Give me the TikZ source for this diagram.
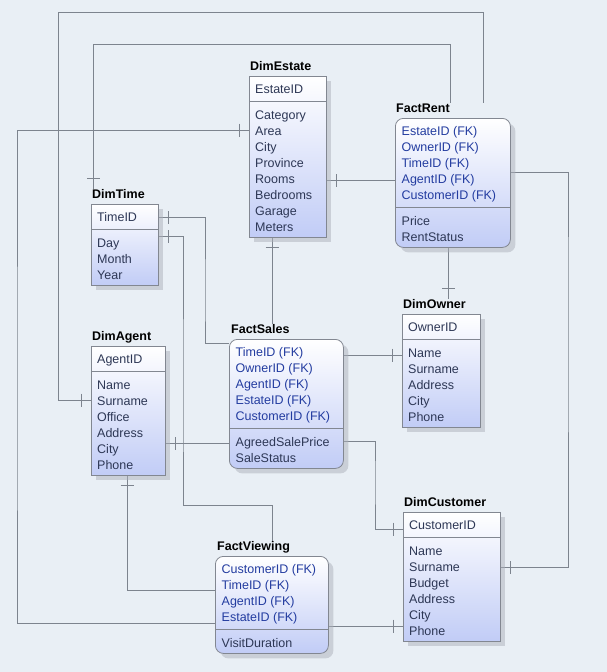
\documentclass[tikz,border=0pt]{standalone}
\usepackage{fontspec}
\setmainfont{Liberation Sans}
\usetikzlibrary{shadows, decorations.markings}
\definecolor{ermbg}{RGB}{233, 239, 245}
\definecolor{ermline}{RGB}{125, 132, 142}
\definecolor{ermborder}{RGB}{130, 135, 145}
\definecolor{ermshadow}{RGB}{172, 177, 186}
\definecolor{ermblue}{RGB}{193, 204, 246}
\definecolor{ermtext}{RGB}{45, 55, 85}
\definecolor{ermfk}{RGB}{35, 60, 160}
\pgfdeclarelayer{bg}
\pgfsetlayers{bg,main}

\begin{document}
\begin{tikzpicture}[x=1pt, y=-1pt,
  tbl/.style={draw=ermborder, line width=0.8pt, top color=white, bottom color=ermblue, anchor=north west, inner sep=0pt,
    drop shadow={shadow xshift=5pt, shadow yshift=-5pt, fill=ermshadow}},
  facttbl/.style={tbl, rounded corners=8pt},
  ttl/.style={font=\fontsize{12.5}{15}\selectfont\bfseries, anchor=base west, inner sep=0pt},
  keyrow/.style={font=\fontsize{12.5}{16}\selectfont, text=ermtext, anchor=base west, inner sep=0pt},
  rows/.style={font=\fontsize{12.5}{16}\selectfont, text=ermtext, anchor=north west, inner sep=0pt, align=left},
  fkrows/.style={rows, text=ermfk},
  sepline/.style={draw=ermborder, line width=0.8pt},
  rel/.style={draw=ermline, line width=0.9pt, postaction={decorate, decoration={markings,
    mark=at position 10pt with {\draw[ermline, line width=0.9pt] (0,-6.5pt) -- (0,6.5pt);}}}},
]
\begin{pgfonlayer}{bg}
\fill[ermbg] (0,0) rectangle (607,672);
\end{pgfonlayer}
\useasboundingbox (0,0) rectangle (607,672);

% DimEstate
\node[ttl] (estate-t) at (250,70) {DimEstate};
\node[tbl, minimum width=77pt, minimum height=161pt] (estate) at (249,76) {};
\draw[sepline] (estate.west |- 0,101) -- (estate.east |- 0,101);
\node[keyrow] at (255,93) {EstateID};
\node[rows] at (255,108.3) {\strut Category\\Area\\City\\Province\\Rooms\\Bedrooms\\Garage\\Meters};

% DimTime
\node[ttl] (time-t) at (92,198) {DimTime};
\node[tbl, minimum width=67pt, minimum height=81pt] (time) at (91,204) {};
\draw[sepline] (time.west |- 0,229) -- (time.east |- 0,229);
\node[keyrow] at (97,221) {TimeID};
\node[rows] at (97,236.3) {\strut Day\\Month\\Year};

% DimAgent
\node[ttl] (agent-t) at (92,340) {DimAgent};
\node[tbl, minimum width=74pt, minimum height=129pt] (agent) at (91,346) {};
\draw[sepline] (agent.west |- 0,371) -- (agent.east |- 0,371);
\node[keyrow] at (97,363) {AgentID};
\node[rows] at (97,378.3) {\strut Name\\Surname\\Office\\Address\\City\\Phone};

% DimOwner
\node[ttl] (owner-t) at (403,308) {DimOwner};
\node[tbl, minimum width=78pt, minimum height=113pt] (owner) at (402,314) {};
\draw[sepline] (owner.west |- 0,339) -- (owner.east |- 0,339);
\node[keyrow] at (408,331) {OwnerID};
\node[rows] at (408,346.3) {\strut Name\\Surname\\Address\\City\\Phone};

% DimCustomer
\node[ttl] (cust-t) at (404,506) {DimCustomer};
\node[tbl, minimum width=97pt, minimum height=129pt] (cust) at (403,512) {};
\draw[sepline] (cust.west |- 0,537) -- (cust.east |- 0,537);
\node[keyrow] at (409,529) {CustomerID};
\node[rows] at (409,544.3) {\strut Name\\Surname\\Budget\\Address\\City\\Phone};

% FactRent
\node[ttl] (rent-t) at (396,112) {FactRent};
\node[facttbl, minimum width=115pt, minimum height=129pt] (rent) at (395,118) {};
\node[fkrows] at (401.5,124.3) {\strut EstateID (FK)\\OwnerID (FK)\\TimeID (FK)\\AgentID (FK)\\CustomerID (FK)};
\draw[sepline] (rent.west |- 0,207.5) -- (rent.east |- 0,207.5);
\node[rows] at (401.5,214.3) {\strut Price\\RentStatus};

% FactSales
\node[ttl] (sales-t) at (231,333) {FactSales};
\node[facttbl, minimum width=114pt, minimum height=129pt] (sales) at (229,339) {};
\node[fkrows] at (235.5,345.3) {\strut TimeID (FK)\\OwnerID (FK)\\AgentID (FK)\\EstateID (FK)\\CustomerID (FK)};
\draw[sepline] (sales.west |- 0,428.5) -- (sales.east |- 0,428.5);
\node[rows] at (235.5,435.3) {\strut AgreedSalePrice\\SaleStatus};

% FactViewing
\node[ttl] (viewing-t) at (217,550) {FactViewing};
\node[facttbl, minimum width=113pt, minimum height=97pt] (viewing) at (215,556) {};
\node[fkrows] at (221.5,562.3) {\strut CustomerID (FK)\\TimeID (FK)\\AgentID (FK)\\EstateID (FK)};
\draw[sepline] (viewing.west |- 0,629.5) -- (viewing.east |- 0,629.5);
\node[rows] at (221.5,636.3) {\strut VisitDuration};

% Relationships
\begin{pgfonlayer}{bg}
\draw[rel] (agent.west |- 0,400) -| (58,12) -| (rent-t.north -| 483,0);
\draw[rel] (time-t.north -| 93,0) |- (450,44) -- (rent-t.north -| 450,0);
\draw[rel] (estate.west |- 0,130) -| (17,400) |- (viewing.west |- 0,623);
\draw[rel] (estate.east |- 0,180) -- (rent.west |- 0,180);
\draw[rel] (estate.south -| 272,0) -- (sales-t.north -| 272,0);
\draw[rel] (time.east |- 0,217) -| (205,300) |- (sales.west |- 0,343);
\draw[rel] (time.east |- 0,236) -| (183,400) |- (272,505) -- (viewing-t.north -| 272,0);
\draw[rel] (agent.east |- 0,443) -- (sales.west |- 0,443);
\draw[rel] (agent.south -| 127,0) |- (viewing.west |- 0,590);
\draw[rel] (owner.west |- 0,355) -- (sales.east |- 0,355);
\draw[rel] (cust.west |- 0,529) -| (375,480) |- (sales.east |- 0,441);
\draw[rel] (owner-t.north -| 448,0) -- (rent.south -| 448,0);
\draw[rel] (cust.east |- 0,567) -| (568,300) |- (rent.east |- 0,172);
\draw[rel] (cust.west |- 0,626) -- (viewing.east |- 0,626);
\end{pgfonlayer}
\end{tikzpicture}
\end{document}
